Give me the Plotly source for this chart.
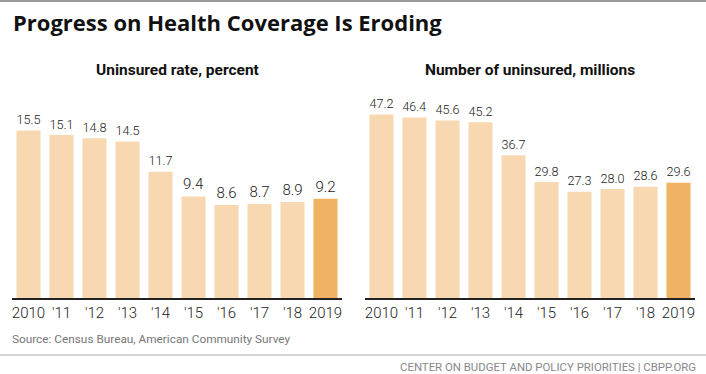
import plotly.graph_objects as go

years = ["2010", "'11", "'12", "'13", "'14", "'15", "'16", "'17", "'18", "2019"]
rate = [15.5, 15.1, 14.8, 14.5, 11.7, 9.4, 8.6, 8.7, 8.9, 9.2]
number = [47.2, 46.4, 45.6, 45.2, 36.7, 29.8, 27.3, 28.0, 28.6, 29.6]
rate_labels = ["15.5", "15.1", "14.8", "14.5", "11.7", "9.4", "8.6", "8.7", "8.9", "9.2"]
number_labels = ["47.2", "46.4", "45.6", "45.2", "36.7", "29.8", "27.3", "28.0", "28.6", "29.6"]

LIGHT = "#F8D8B0"
DARK = "#F0B263"
colors = [LIGHT] * 9 + [DARK]

W, H = 706, 374
FONT = "Roboto"

fig = go.Figure()
fig.add_trace(go.Bar(x=years, y=rate, text=rate_labels, textposition="outside",
                     marker=dict(color=colors, line=dict(width=0)),
                     textfont=dict(family=FONT, size=15, color="#222", weight=300),
                     cliponaxis=False, xaxis="x", yaxis="y", hoverinfo="skip"))
fig.add_trace(go.Bar(x=years, y=number, text=number_labels, textposition="outside",
                     marker=dict(color=colors, line=dict(width=0)),
                     textfont=dict(family=FONT, size=15, color="#222", weight=300),
                     cliponaxis=False, xaxis="x2", yaxis="y2", hoverinfo="skip"))

ybot = 1 - 298 / H
ytop = 1 - 100 / H
axis_common = dict(showgrid=False, zeroline=False, showline=True, linecolor="#222",
                   linewidth=2, ticks="", tickfont=dict(family=FONT, size=15, color="#222", weight=300),
                   fixedrange=True)
fig.update_layout(
    width=W, height=H, margin=dict(l=0, r=0, t=0, b=0),
    paper_bgcolor="white", plot_bgcolor="white", showlegend=False,
    bargap=0.27,
    xaxis=dict(domain=[12 / W, 342 / W], anchor="y", **axis_common),
    xaxis2=dict(domain=[365 / W, 695 / W], anchor="y2", **axis_common),
    yaxis=dict(domain=[ybot, ytop], range=[0, 198 / 10.8], visible=False, anchor="x"),
    yaxis2=dict(domain=[ybot, ytop], range=[0, 198 / 3.89], visible=False, anchor="x2"),
)

def ann(text, x, y, size, color, weight=400, xanchor="left", family=FONT):
    fig.add_annotation(text=text, x=x / W, y=1 - y / H, xref="paper", yref="paper",
                       xanchor=xanchor, yanchor="middle", showarrow=False,
                       font=dict(family=family, size=size, color=color, weight=weight))

ann("Progress on Health Coverage Is Eroding", 11, 22, 22, "#111", 700, family="Open Sans")
ann("Uninsured rate, percent", 177, 70, 15.5, "#111", 700, "center")
ann("Number of uninsured, millions", 530, 70, 15.5, "#111", 700, "center")
ann("Source: Census Bureau, American Community Survey", 10, 339, 11.8, "#777")
ann("CENTER ON BUDGET AND POLICY PRIORITIES | CBPP.ORG", 698, 367, 11.4, "#888", 400, "right")

fig.add_shape(type="line", xref="paper", yref="paper", x0=0, x1=1, y0=1 - 1 / H, y1=1 - 1 / H,
              line=dict(color="#999", width=2))
fig.add_shape(type="line", xref="paper", yref="paper", x0=0, x1=1, y0=1 - 355 / H, y1=1 - 355 / H,
              line=dict(color="#aaa", width=1))

fig.write_html("out.html", config={"displayModeBar": False},
               post_script="document.body.style.margin='0px';document.body.style.overflow='hidden';")
